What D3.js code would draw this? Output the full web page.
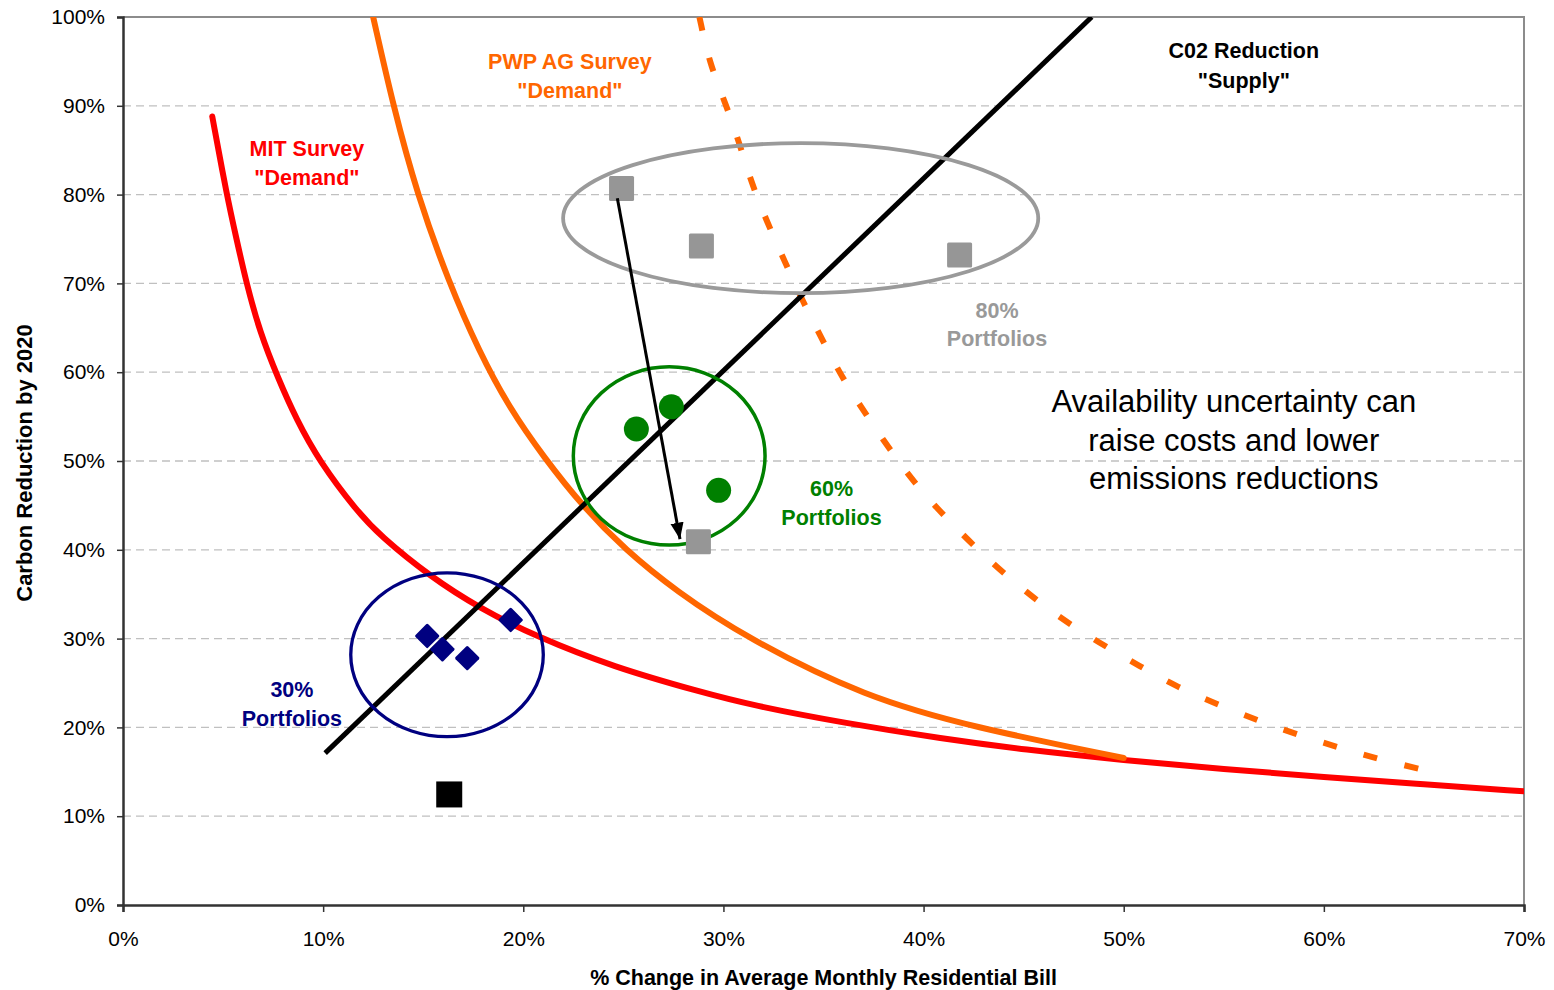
<!DOCTYPE html>
<html>
<head>
<meta charset="utf-8">
<script src="https://cdn.jsdelivr.net/npm/d3@7"></script>
<style>
body { margin: 0; background: #fff; }
text { font-family: "Liberation Sans", Arial, sans-serif; }
</style>
</head>
<body>
<script>
// Values in percent: [bill change, carbon reduction]
var mitDemand = [[4.46,88.8],[5.18,80],[5.67,75],[6.17,70],[6.84,64.5],[7.75,59.3],[8.66,54.7],[9.8,50],
                 [11.67,44.4],[12.84,41.6],[15.34,37],[17.84,33.4],[20.67,30.2],[24.5,26.8],[28.83,24.0],
                 [31.4,22.5],[36,20.5],[41,18.7],[45,17.5],[50,16.3],[55,15.3],[60,14.4],[65,13.6],[70,12.8]];
var pwpDemand = [[12.5,100],[13.5,90],[14.7,80],[16.3,70],[17.8,62.3],[19.3,56],[21.0,50.5],[23.0,44.8],
                 [25.1,40],[27.6,35.4],[31.2,30],[37.1,23.4],[42.5,20],[50,16.55]];
var pwpDemandShifted = [[28.8,100],[29.3,94.8],[30.1,90.3],[30.8,85.8],[31.4,81.3],[32.2,76.8],[33.1,72.3],
                 [34.0,67.8],[35.0,63.4],[36.0,59.1],[37.2,55.0],[38.4,51.0],[39.7,47.1],[41.2,43.4],
                 [42.9,39.6],[44.7,36.0],[46.7,32.5],[48.8,29.5],[50.8,26.9],[52.7,24.5],[54.8,22.5],
                 [56.8,20.7],[58.8,19.1],[60.8,17.7],[62.8,16.4],[65.2,15.1]];
var co2Supply = [[10.1,17.1],[48.4,100]];
var portfolios80 = [[24.91,80.7],[28.9,74.2],[41.8,73.2]];
var portfolios80Shifted = [[28.75,40.9]];
var portfolios60 = [[25.65,53.6],[27.4,56.1],[29.76,46.7]];
var portfolios30 = [[15.2,30.3],[15.96,28.8],[17.2,27.8],[19.37,32.1]];
var baseCase = [[16.3,12.45]];
var xTicks = [0,10,20,30,40,50,60,70];
var yTicks = [0,10,20,30,40,50,60,70,80,90,100];

var width = 1554, height = 990;
var plotLeft = 123, plotRight = 1524, plotTop = 17, plotBottom = 905;

var x = d3.scaleLinear().domain([0,70]).range([plotLeft,plotRight]);
var y = d3.scaleLinear().domain([0,100]).range([plotBottom,plotTop]);

var svg = d3.select("body").append("svg")
    .attr("width", width).attr("height", height);

var defs = svg.append("defs");
defs.append("clipPath").attr("id","plot")
    .append("rect").attr("x",plotLeft).attr("y",plotTop)
    .attr("width",plotRight-plotLeft).attr("height",plotBottom-plotTop);
defs.append("marker").attr("id","arrow")
    .attr("viewBox","0 0 10 10").attr("refX",10).attr("refY",5)
    .attr("markerWidth",5.5).attr("markerHeight",5.5).attr("orient","auto")
  .append("path").attr("d","M0,1 L10,5 L0,9 Z").attr("fill","#000");

//Gridlines
svg.append("g").selectAll("line").data(yTicks.filter(function(d){ return d > 0 && d < 100; }))
  .enter().append("line")
    .attr("x1",plotLeft).attr("x2",plotRight)
    .attr("y1",function(d){ return y(d); }).attr("y2",function(d){ return y(d); })
    .attr("stroke","#c0c0c0").attr("stroke-width",1.3).attr("stroke-dasharray","8,5");

//Borders on top and right
svg.append("path")
    .attr("d","M"+plotLeft+","+plotTop+" H"+plotRight+" V"+plotBottom)
    .attr("fill","none").attr("stroke","#8c8c8c").attr("stroke-width",2);

//Axes
var xAxis = svg.append("g").attr("transform","translate(0,"+plotBottom+")")
    .call(d3.axisBottom(x).tickValues(xTicks).tickFormat(function(d){ return d+"%"; })
          .tickSizeOuter(0).tickSize(7).tickPadding(19));
var yAxis = svg.append("g").attr("transform","translate("+plotLeft+",0)")
    .call(d3.axisLeft(y).tickValues(yTicks).tickFormat(function(d){ return d+"%"; })
          .tickSizeOuter(0).tickSize(6).tickPadding(12));
[xAxis, yAxis].forEach(function(a){
  a.attr("font-size",21).attr("font-family","'Liberation Sans', Arial, sans-serif");
  a.select(".domain").attr("stroke","#333").attr("stroke-width",2.5);
  a.selectAll(".tick line").attr("stroke","#333").attr("stroke-width",1.5);
  a.selectAll(".tick text").attr("fill","#000");
});

//Axis titles
svg.append("text").attr("x",x(35)).attr("y",985).attr("text-anchor","middle")
    .attr("font-size",21.5).attr("font-weight","bold")
    .text("% Change in Average Monthly Residential Bill");
svg.append("text").attr("transform","translate(32,"+ (y(50)+2) +") rotate(-90)")
    .attr("text-anchor","middle").attr("font-size",22).attr("font-weight","bold")
    .text("Carbon Reduction by 2020");

var plot = svg.append("g").attr("clip-path","url(#plot)");
var line = d3.line().x(function(d){ return x(d[0]); }).y(function(d){ return y(d[1]); })
    .curve(d3.curveBasis);

//Group ellipses
var groups = [
  {cx:33.86, cy:77.35, rx:11.87, ry:8.45, color:"#9a9a9a", w:3.8},
  {cx:27.29, cy:50.57, rx:4.79,  ry:10.04, color:"#008000", w:3.5},
  {cx:16.19, cy:28.18, rx:4.81,  ry:9.23, color:"#000080", w:3.3}
];

plot.append("path").datum(pwpDemandShifted).attr("d",line)
    .attr("fill","none").attr("stroke","#ff6600").attr("stroke-width",6)
    .attr("stroke-dasharray","14,28");
plot.append("path").datum(mitDemand).attr("d",line)
    .attr("fill","none").attr("stroke","#ff0000").attr("stroke-width",6)
    .attr("stroke-linecap","round");
plot.append("path").datum(pwpDemand).attr("d",line)
    .attr("fill","none").attr("stroke","#ff6600").attr("stroke-width",6)
    .attr("stroke-linecap","round");
plot.append("path").datum(co2Supply).attr("d",d3.line().x(function(d){ return x(d[0]); }).y(function(d){ return y(d[1]); }))
    .attr("fill","none").attr("stroke","#000").attr("stroke-width",5);

plot.selectAll("ellipse").data(groups).enter().append("ellipse")
    .attr("cx",function(d){ return x(d.cx); }).attr("cy",function(d){ return y(d.cy); })
    .attr("rx",function(d){ return x(d.rx) - x(0); }).attr("ry",function(d){ return y(0) - y(d.ry); })
    .attr("fill","none").attr("stroke",function(d){ return d.color; })
    .attr("stroke-width",function(d){ return d.w; });

//Markers
var sq = 25;
plot.selectAll(".sq80").data(portfolios80.concat(portfolios80Shifted)).enter().append("rect")
    .attr("x",function(d){ return x(d[0]) - sq/2; }).attr("y",function(d){ return y(d[1]) - sq/2; })
    .attr("width",sq).attr("height",sq).attr("rx",1.5).attr("fill","#969696");
plot.selectAll(".sqBase").data(baseCase).enter().append("rect")
    .attr("x",function(d){ return x(d[0]) - 13; }).attr("y",function(d){ return y(d[1]) - 13; })
    .attr("width",26).attr("height",26).attr("fill","#000");
plot.selectAll(".dot60").data(portfolios60).enter().append("circle")
    .attr("cx",function(d){ return x(d[0]); }).attr("cy",function(d){ return y(d[1]); })
    .attr("r",12.5).attr("fill","#008000");
plot.selectAll(".dia30").data(portfolios30).enter().append("rect")
    .attr("x",-9).attr("y",-9).attr("width",18).attr("height",18).attr("rx",1.5)
    .attr("transform",function(d){ return "translate("+x(d[0])+","+y(d[1])+") rotate(45)"; })
    .attr("fill","#000080");

//Arrow from the 80% portfolio to its shifted position
svg.append("line")
    .attr("x1",x(24.70)).attr("y1",y(79.6)).attr("x2",x(27.83)).attr("y2",y(41.2))
    .attr("stroke","#000").attr("stroke-width",3).attr("marker-end","url(#arrow)");

//Labels
function label(lines, cx, cy, color, size, weight, step){
  var t = svg.append("text").attr("text-anchor","middle").attr("fill",color)
      .attr("font-size",size).attr("font-weight",weight);
  lines.forEach(function(s,i){
    t.append("tspan").attr("x",x(cx)).attr("y",y(cy) + i*step).attr("dy","0.36em").text(s);
  });
}
label(["MIT Survey","\"Demand\""], 9.19, 85.25, "#ff0000", 21.5, "bold", 29);
label(["PWP AG Survey","\"Demand\""], 22.33, 95.05, "#ff6600", 21.5, "bold", 29);
label(["C02 Reduction","\"Supply\""], 56.0, 96.2, "#000", 21.5, "bold", 30);
label(["80%","Portfolios"], 43.67, 67.0, "#999999", 21.5, "bold", 28);
label(["60%","Portfolios"], 35.4, 46.96, "#008000", 21.5, "bold", 29);
label(["30%","Portfolios"], 8.44, 24.3, "#000080", 21.5, "bold", 29);
label(["Availability uncertainty can","raise costs and lower","emissions reductions"], 55.5, 56.76, "#000", 31, "normal", 38.5);
</script>
</body>
</html>
